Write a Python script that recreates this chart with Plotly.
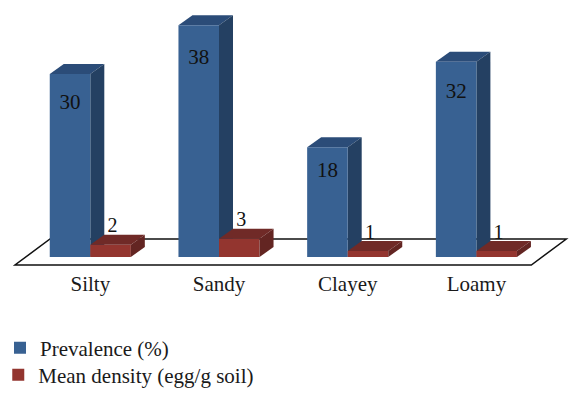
import plotly.graph_objects as go

categories = ["Silty", "Sandy", "Clayey", "Loamy"]
prevalence = [30, 38, 18, 32]
density = [2, 3, 1, 1]

W, H = 579, 402
PX_X = 128.7      # px per category
PX_Y = 6.1        # px per value unit
X0_PX = 90.3      # px of first category
Y0_PX = 257       # px of baseline
BOTTOM_PX = 268
BAR = 0.315
DX = 14 / PX_X    # depth offset in data units
DY = 10 / PX_Y

BLUE = "#386192"; BLUE_SIDE = "#244062"; BLUE_TOP = "#2b4c78"
RED = "#93352f"; RED_SIDE = "#632522"; RED_TOP = "#702a27"
FONT = "Liberation Serif"


def poly(pts):
    return "M " + " L ".join(f"{x:.4f},{y:.4f}" for x, y in pts) + " Z"


def faces(x0, x1, v):
    top = [(x0, v), (x1, v), (x1 + DX, v + DY), (x0 + DX, v + DY)]
    side = [(x1, 0), (x1, v), (x1 + DX, v + DY), (x1 + DX, DY)]
    return top, side


xs = list(range(len(categories)))
fig = go.Figure()

# floor parallelogram in axis units
fy_front = -8 / PX_Y
fy_back = 18 / PX_Y
fx_left = -75.3 / PX_X
fx_right = 441 / PX_X
shift = 35 / PX_X
shapes = [dict(type="path", xref="x", yref="y", layer="below",
               path=poly([(fx_left, fy_front), (fx_right, fy_front),
                          (fx_right + shift, fy_back), (fx_left + shift, fy_back)]),
               fillcolor="white", line=dict(color="#111111", width=1.5))]

for i, v in zip(xs, prevalence):
    top, side = faces(i - BAR, i, v)
    shapes.append(dict(type="path", xref="x", yref="y", layer="below", path=poly(top),
                       fillcolor=BLUE_TOP, line=dict(width=0)))
    shapes.append(dict(type="path", xref="x", yref="y", layer="below", path=poly(side),
                       fillcolor=BLUE_SIDE, line=dict(width=0)))

fig.add_trace(go.Bar(x=xs, y=prevalence, name="Prevalence (%)", marker=dict(color=BLUE, line=dict(width=0)),
                     offsetgroup="a", hoverinfo="skip"))
fig.add_trace(go.Bar(x=xs, y=density, name="Mean density (egg/g soil)", marker=dict(color=RED, line=dict(width=0)),
                     offsetgroup="b", hoverinfo="skip", legend="legend2"))

for i, v in zip(xs, density):
    top, side = faces(i, i + BAR, v)
    for pts, c in ((top, RED_TOP), (side, RED_SIDE)):
        fig.add_trace(go.Scatter(x=[p[0] for p in pts], y=[p[1] for p in pts], mode="lines",
                                 fill="toself", fillcolor=c, line=dict(width=0),
                                 showlegend=False, hoverinfo="skip"))

# data labels
fig.add_trace(go.Scatter(x=[i - BAR / 2 for i in xs], y=[v - (16.5 + 0.45 * v) / PX_Y for v in prevalence],
                         mode="text", text=[str(v) for v in prevalence],
                         textfont=dict(family=FONT, size=21, color="#111111"),
                         showlegend=False, hoverinfo="skip"))
fig.add_trace(go.Scatter(x=[i + BAR / 2 + 0.015 for i in xs], y=[v + 2.85 for v in density],
                         mode="text", text=[str(v) for v in density],
                         textfont=dict(family=FONT, size=20, color="#111111"),
                         showlegend=False, hoverinfo="skip"))

legend_font = dict(family=FONT, size=21, color="#1a1a1a")
fig.update_layout(
    width=W, height=H, autosize=False,
    margin=dict(l=0, r=0, t=0, b=H - BOTTOM_PX, autoexpand=False),
    paper_bgcolor="white", plot_bgcolor="white",
    barmode="group", bargap=1 - 2 * BAR, bargroupgap=0,
    font=dict(family=FONT, size=21, color="#1a1a1a"),
    shapes=shapes,
    xaxis=dict(range=[-X0_PX / PX_X, (W - X0_PX) / PX_X], tickmode="array", tickvals=xs, ticktext=categories,
               tickfont=dict(family=FONT, size=21, color="#1a1a1a"),
               showgrid=False, zeroline=False, showline=False, ticks="", ticklabelstandoff=1),
    yaxis=dict(range=[-(BOTTOM_PX - Y0_PX) / PX_Y, Y0_PX / PX_Y], visible=False),
    legend=dict(x=0.0, xanchor="left", y=-0.222, yanchor="top",
                bgcolor="rgba(0,0,0,0)", font=legend_font),
    legend2=dict(x=-0.003, xanchor="left", y=-0.222 - 27 / BOTTOM_PX, yanchor="top",
                 bgcolor="rgba(0,0,0,0)", font=legend_font),
    showlegend=True,
)
fig.write_html("out.html", config=dict(displayModeBar=False),
               post_script="document.body.style.margin='0';document.body.style.overflow='hidden';")
